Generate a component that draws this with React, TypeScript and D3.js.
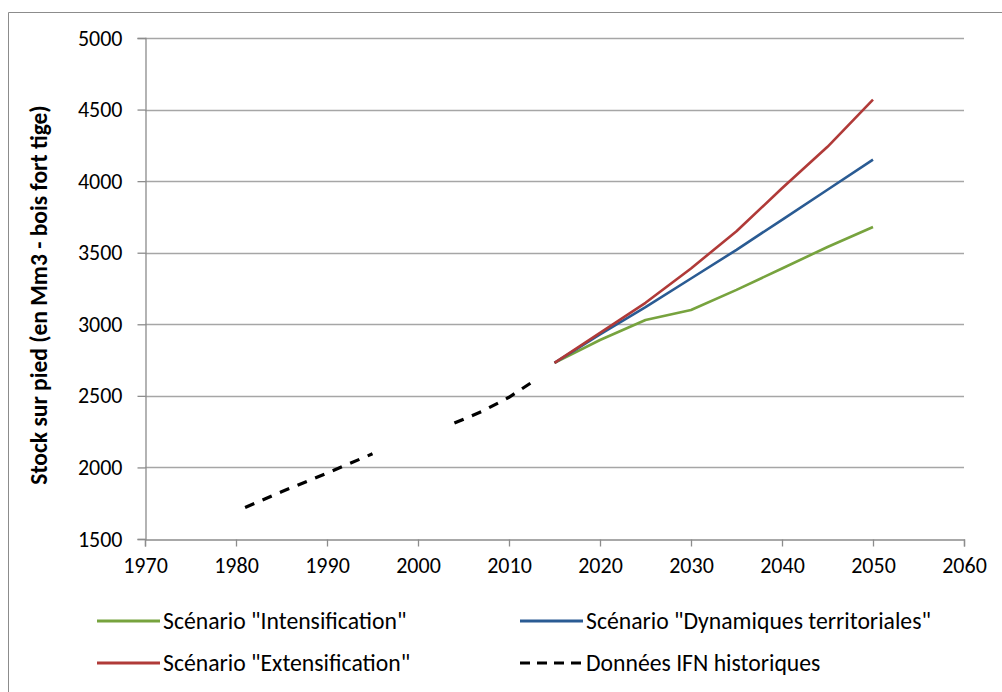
import React, { useEffect, useRef } from 'react';
import * as d3 from 'd3';

const years = [2015, 2020, 2025, 2030, 2035, 2040, 2045, 2050];
const intensification = [2730, 2890, 3030, 3100, 3240, 3390, 3540, 3680];
const dynamiques = [2730, 2930, 3120, 3320, 3520, 3730, 3940, 4150];
const extensification = [2730, 2940, 3150, 3390, 3650, 3950, 4240, 4570];

const histYearsA = [1981, 1985, 1990, 1995];
const histValuesA = [1720, 1830, 1960, 2095];
const histYearsB = [2004, 2007, 2010, 2013];
const histValuesB = [2310, 2390, 2490, 2615];

const xTicks = [1970, 1980, 1990, 2000, 2010, 2020, 2030, 2040, 2050, 2060];
const yTicks = [1500, 2000, 2500, 3000, 3500, 4000, 4500, 5000];

const font = "Carlito, 'Open Sans', 'Noto Sans', sans-serif";

const App: React.FC = () => {
  const svgRef = useRef<SVGSVGElement>(null);

  useEffect(() => {
    if (!svgRef.current) return;
    const svg = d3.select(svgRef.current);
    svg.selectAll('*').remove();

    const x = d3.scaleLinear().domain([1970, 2060]).range([145, 964]);
    const y = d3.scaleLinear().domain([1500, 5000]).range([539, 38]);

    // outer frame (only left and top visible)
    svg.append('path')
      .attr('d', 'M8.5,1002 L8.5,12.5 L1002,12.5')
      .attr('fill', 'none')
      .attr('stroke', '#8c8c8c')
      .attr('stroke-width', 1);

    // gridlines
    svg.append('g')
      .selectAll('line')
      .data(yTicks.slice(1))
      .enter().append('line')
      .attr('x1', 145).attr('x2', 964)
      .attr('y1', d => Math.round(y(d)) + 0.5)
      .attr('y2', d => Math.round(y(d)) + 0.5)
      .attr('stroke', '#a6a6a6')
      .attr('stroke-width', 1.3);

    // axes
    const yAxis = svg.append('g')
      .attr('transform', 'translate(145.5,0)')
      .call(d3.axisLeft(y).tickValues(yTicks).tickSize(8).tickPadding(15).tickFormat(d3.format('d')));
    const xAxis = svg.append('g')
      .attr('transform', 'translate(0,539.5)')
      .call(d3.axisBottom(x).tickValues(xTicks).tickSize(7).tickPadding(11).tickFormat(d3.format('d')));

    [yAxis, xAxis].forEach(a => {
      a.select('.domain').attr('stroke', '#8c8c8c').attr('stroke-width', 1.3);
      a.selectAll('.tick line').attr('stroke', '#8c8c8c').attr('stroke-width', 1.3);
      a.selectAll('text')
        .attr('fill', '#000')
        .style('font-family', font)
        .style('font-size', '22px');
    });

    // y-axis title
    svg.append('text')
      .attr('transform', 'translate(47,295) rotate(-90)')
      .attr('text-anchor', 'middle')
      .style('font-family', font)
      .style('font-size', '23.5px')
      .style('font-weight', 'bold')
      .text('Stock sur pied (en Mm3 - bois fort tige)');

    const line = d3.line<[number, number]>()
      .x(d => x(d[0]))
      .y(d => y(d[1]));

    const histA = histYearsA.map((yr, i) => [yr, histValuesA[i]] as [number, number]);
    const histB = histYearsB.map((yr, i) => [yr, histValuesB[i]] as [number, number]);
    [histA, histB].forEach(seg => {
      svg.append('path')
        .datum(seg)
        .attr('d', line)
        .attr('fill', 'none')
        .attr('stroke', '#000')
        .attr('stroke-width', 3.2)
        .attr('stroke-dasharray', '10,9');
    });

    const series = [
      { values: intensification, color: '#77a33e' },
      { values: dynamiques, color: '#2a5b93' },
      { values: extensification, color: '#b03a38' },
    ];
    series.forEach(s => {
      svg.append('path')
        .datum(years.map((yr, i) => [yr, s.values[i]] as [number, number]))
        .attr('d', line)
        .attr('fill', 'none')
        .attr('stroke', s.color)
        .attr('stroke-width', 2.6)
        .attr('stroke-linejoin', 'round');
    });

    // legend
    const legend = [
      { label: 'Scénario "Intensification"', color: '#77a33e', dash: null, lx: 97, ly: 621 },
      { label: 'Scénario "Dynamiques territoriales"', color: '#2a5b93', dash: null, lx: 520, ly: 621 },
      { label: 'Scénario "Extensification"', color: '#b03a38', dash: null, lx: 97, ly: 663 },
      { label: 'Données IFN historiques', color: '#000', dash: '10,7', lx: 520, ly: 663 },
    ];
    legend.forEach(l => {
      const g = svg.append('g');
      g.append('line')
        .attr('x1', l.lx).attr('x2', l.lx + 63)
        .attr('y1', l.ly).attr('y2', l.ly)
        .attr('stroke', l.color)
        .attr('stroke-width', 3)
        .attr('stroke-dasharray', l.dash);
      g.append('text')
        .attr('x', l.lx + 66)
        .attr('y', l.ly)
        .attr('dy', '0.35em')
        .style('font-family', font)
        .style('font-size', '23.7px')
        .text(l.label);
    });
  }, []);

  return <svg ref={svgRef} width={1002} height={692} style={{ position: 'absolute', left: 0, top: 0, background: '#fff' }} />;
};

export default App;
